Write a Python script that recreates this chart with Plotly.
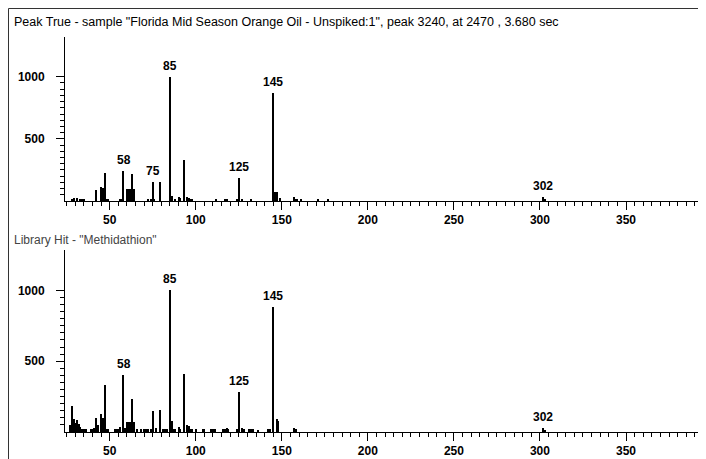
import plotly.graph_objects as go

# ---------------- data ----------------
title_text = 'Peak True - sample "Florida Mid Season Orange Oil - Unspiked:1", peak 3240, at 2470 , 3.680 sec'
lib_text = 'Library Hit - "Methidathion"'

top_mz = [28, 29, 31, 33, 34, 35, 42, 45, 46, 47, 48, 49, 56, 57, 58, 60, 61, 62, 63, 64,
          72, 74, 75, 76, 79, 85, 86, 88, 90, 91, 93, 95, 96, 97, 98, 112, 117, 118, 124,
          125, 127, 132, 145, 146, 147, 149, 157, 158, 159, 161, 171, 177, 302, 303]
top_int = [20, 22, 24, 16, 16, 16, 90, 110, 104, 228, 20, 20, 16, 20, 240, 95, 95, 95, 220, 95,
           16, 20, 150, 16, 150, 1000, 40, 20, 30, 24, 330, 32, 28, 20, 16, 16, 20, 16, 20,
           188, 16, 16, 868, 75, 70, 26, 30, 20, 20, 20, 12, 12, 30, 15]
top_labels = [58, 75, 85, 125, 145, 302]

bot_mz = [27, 28, 29, 30, 31, 32, 33, 34, 35, 36, 39, 40, 41, 42, 43, 45, 46, 47, 48, 49,
          53, 54, 55, 56, 58, 59, 60, 61, 62, 63, 64, 66, 68, 70, 71, 72, 74, 75, 77, 79,
          81, 82, 83, 85, 86, 87, 88, 90, 91, 93, 95, 96, 97, 98, 100, 104, 105, 109, 110,
          111, 116, 117, 118, 119, 124, 125, 127, 128, 131, 132, 133, 136, 142, 143, 145,
          147, 148, 157, 158, 302, 303]
bot_int = [47, 183, 89, 66, 82, 54, 38, 24, 24, 24, 19, 19, 31, 96, 47, 125, 96, 329, 19, 19,
           19, 19, 19, 38, 404, 31, 73, 73, 73, 230, 73, 19, 19, 19, 19, 19, 24, 148, 28, 155,
           19, 19, 19, 1000, 78, 19, 19, 38, 24, 411, 47, 42, 24, 19, 19, 19, 19, 24, 24,
           19, 19, 19, 31, 19, 19, 282, 31, 19, 19, 19, 19, 14, 19, 19, 885,
           90, 80, 31, 19, 30, 15]
bot_labels = [58, 85, 125, 145, 302]

x_range = [24, 393]
top_y_range = [0, 1320]
bot_y_range = [0, 1285]
y_tickvals = [500, 1000]
y_minor_vals = [v for v in range(50, 1000, 50) if v != 500]

# ---------------- layout geometry (pixels, figure coords; page adds 8px body margin) ----------------
W, H = 698, 451
px_x0, px_x1 = 57, 692
top_px = (29, 193)
bot_px = (242, 424)

def ydom(p):
    return [1 - p[1] / H, 1 - p[0] / H]

font_num = dict(family="Liberation Sans, Arial, sans-serif", size=12, color="black", weight="bold")

fig = go.Figure()
fig.add_trace(go.Bar(x=top_mz, y=top_int, width=0.6, marker=dict(color="black", line=dict(width=0)),
                     xaxis="x", yaxis="y", showlegend=False, hoverinfo="x+y"))
fig.add_trace(go.Bar(x=bot_mz, y=bot_int, width=0.6, marker=dict(color="black", line=dict(width=0)),
                     xaxis="x2", yaxis="y2", showlegend=False, hoverinfo="x+y"))

xcommon = dict(range=x_range, showgrid=False, zeroline=False, showline=True, linecolor="black",
               linewidth=1, ticks="outside", ticklen=8, tickcolor="black", tickwidth=1,
               tick0=0, dtick=50, tickfont=font_num,
               minor=dict(ticks="outside", ticklen=4, tickcolor="black", tickwidth=1,
                          tickmode="linear", tick0=0, dtick=5))
ycommon = dict(showgrid=False, zeroline=False, showline=True, linecolor="black", linewidth=1,
               ticks="outside", ticklen=8, tickcolor="black", tickwidth=1,
               tickmode="array", tickvals=y_tickvals, ticktext=[str(v) for v in y_tickvals],
               tickfont=font_num, ticklabelstandoff=9,
               minor=dict(ticks="outside", ticklen=4, tickcolor="black", tickwidth=1,
                          tickmode="array", tickvals=y_minor_vals))

fig.update_layout(
    width=W, height=H, margin=dict(l=0, r=0, t=0, b=0),
    paper_bgcolor="white", plot_bgcolor="white", bargap=0,
    xaxis=dict(domain=[px_x0 / W, px_x1 / W], anchor="y", **xcommon),
    yaxis=dict(domain=ydom(top_px), anchor="x", range=top_y_range, **ycommon),
    xaxis2=dict(domain=[px_x0 / W, px_x1 / W], anchor="y2", **xcommon),
    yaxis2=dict(domain=ydom(bot_px), anchor="x2", range=bot_y_range, **ycommon),
)

anns = []
for lab in top_labels:
    v = top_int[top_mz.index(lab)]
    anns.append(dict(x=lab, y=v, xref="x", yref="y", text=str(lab), showarrow=False,
                     yanchor="bottom", xanchor="center", yshift=2, font=font_num))
for lab in bot_labels:
    v = bot_int[bot_mz.index(lab)]
    anns.append(dict(x=lab, y=v, xref="x2", yref="y2", text=str(lab), showarrow=False,
                     yanchor="bottom", xanchor="center", yshift=2, font=font_num))
anns.append(dict(x=4 / W, y=1 - 14 / H, xref="paper", yref="paper", text=title_text,
                 showarrow=False, xanchor="left", yanchor="middle",
                 font=dict(family="Liberation Sans, Arial, sans-serif", size=12.5, color="black")))
anns.append(dict(x=4 / W, y=1 - 232 / H, xref="paper", yref="paper", text=lib_text,
                 showarrow=False, xanchor="left", yanchor="middle",
                 font=dict(family="Liberation Sans, Arial, sans-serif", size=12, color="#444444")))
fig.update_layout(annotations=anns)

fig.add_shape(type="rect", xref="paper", yref="paper", x0=0.5 / W, x1=696.5 / W, y0=-0.1, y1=1 - 0.5 / H,
              line=dict(color="#333333", width=1), fillcolor="rgba(0,0,0,0)", layer="above")

fig.write_html("out.html")
